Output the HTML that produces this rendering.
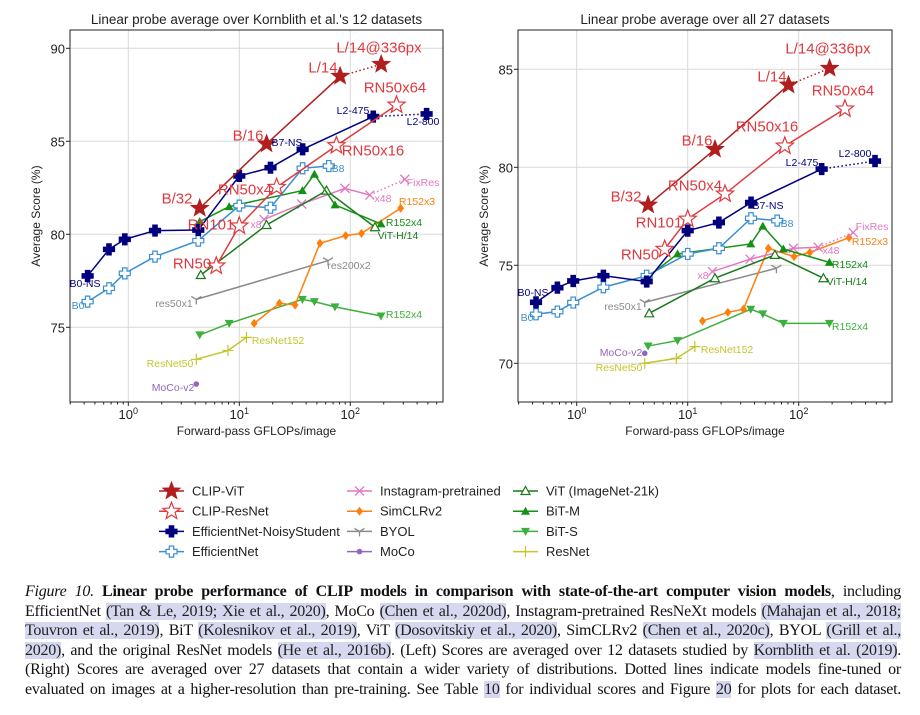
<!DOCTYPE html>
<html><head><meta charset="utf-8">
<style>
body{margin:0;background:#fff;width:920px;height:715px;overflow:hidden;font-family:"Liberation Sans",sans-serif}
#cap{position:absolute;left:25px;top:582px;width:876px;font-family:"Liberation Serif",serif;font-size:16px;line-height:19.6px;color:#111;letter-spacing:-0.25px}
#cap div{white-space:nowrap;text-align:justify;text-align-last:justify;overflow:visible}
#cap div.last{text-align-last:justify}
#cap .hl{background:#d6d8f0;color:#222}
</style></head><body>
<svg id="svg" width="920" height="575" style="position:absolute;left:0;top:0" font-family="Liberation Sans, sans-serif"></svg>
<div id="cap">
<div><i>Figure 10.</i> <b>Linear probe performance of CLIP models in comparison with state-of-the-art computer vision models</b>, including</div>
<div>EfficientNet <span class="hl">(Tan &amp; Le, 2019; Xie et al., 2020)</span>, MoCo <span class="hl">(Chen et al., 2020d)</span>, Instagram-pretrained ResNeXt models <span class="hl">(Mahajan et al., 2018;</span></div>
<div><span class="hl">Touvron et al., 2019)</span>, BiT <span class="hl">(Kolesnikov et al., 2019)</span>, ViT <span class="hl">(Dosovitskiy et al., 2020)</span>, SimCLRv2 <span class="hl">(Chen et al., 2020c)</span>, BYOL <span class="hl">(Grill et al.,</span></div>
<div><span class="hl">2020)</span>, and the original ResNet models <span class="hl">(He et al., 2016b)</span>. (Left) Scores are averaged over 12 datasets studied by <span class="hl">Kornblith et al. (2019)</span>.</div>
<div>(Right) Scores are averaged over 27 datasets that contain a wider variety of distributions. Dotted lines indicate models fine-tuned or</div>
<div class="last">evaluated on images at a higher-resolution than pre-training. See Table <span class="hl">10</span> for individual scores and Figure <span class="hl">20</span> for plots for each dataset.</div>
</div>
<script>
// ---- data ----
const clipVitX=[4.4,17.6,81,190];
const clipVitL=[81.4,84.86,88.5,89.14];
const clipVitR=[78.08,80.92,84.2,85.05];
const clipResX=[6.2,10,21.7,75,261];
const clipResL=[78.3,80.45,82.53,84.77,86.95];
const clipResR=[75.82,77.36,78.64,81.09,82.98];
const effX=[0.43,0.67,0.93,1.74,4.27,10,19.1,37.2,161,487];
const effNsL=[77.76,79.19,79.73,80.2,80.23,83.14,83.58,84.57,86.33,86.47];
const effNsR=[73.11,73.86,74.2,74.47,74.17,76.77,77.18,78.2,79.91,80.32];
const effBX=[0.43,0.67,0.93,1.74,4.27,10,19.1,37.2,64];
const effL=[76.38,77.1,77.9,78.8,79.66,81.54,81.43,83.55,83.67];
const effR=[72.5,72.64,73.1,73.88,74.47,75.58,75.87,77.4,77.28];
const igX=[16.7,36.5,89.6,150,310];
const igL=[80.8,81.63,82.47,82.11,82.96];
const igR=[74.68,75.31,75.87,75.92,76.67];
const simX=[13.6,23,31.8,53.3,90.8,126,284];
const simL=[75.21,76.29,76.2,79.52,79.93,80.05,81.4];
const simR=[72.16,72.6,72.76,75.87,75.44,75.66,76.41];
const byolX=[4.1,63];
const byolL=[76.5,78.58];
const byolR=[73.11,74.85];
const mocoX=[4.1];
const mocoL=[71.95];
const mocoR=[70.51];
const vitX=[4.5,17.6,61,167];
const vitL=[77.81,80.5,82.35,80.38];
const vitR=[72.55,74.34,75.53,74.34];
const bitX=[4.4,8.1,37,47.5,72.8,189];
const bitML=[80.68,81.49,82.35,83.23,81.58,80.56];
const bitMR=[74.42,75.58,76.09,77.0,75.83,75.15];
const bitSL=[74.59,75.21,76.5,76.38,76.1,75.61];
const bitSR=[70.88,71.16,72.76,72.52,72.04,72.04];
const resX=[4.1,7.9,11.6];
const resL=[73.28,73.75,74.46];
const resR=[70.0,70.25,70.85];
const yTicksL=[75,80,85,90];
const yTicksR=[70,75,80,85];
const xTickExp=[0,1,2];

const NS="http://www.w3.org/2000/svg";
const svg=document.getElementById('svg');
function mk(tag,attrs,parent){const e=document.createElementNS(NS,tag);for(const k in attrs)e.setAttribute(k,attrs[k]);(parent||svg).appendChild(e);return e;}

const C={vit:'#b01e1e',res:'#e0393e',ns:'#00007f',eff:'#3a8fd0',ig:'#e377c2',sim:'#ff7f0e',byol:'#8a8a8a',moco:'#9467bd',vit21:'#1a7a1a',bitm:'#159015',bits:'#3cb03c',rn:'#c5c52a'};

function starPts(cx,cy,r){let p=[];for(let i=0;i<10;i++){const a=-Math.PI/2+i*Math.PI/5;const rr=i%2?r*0.42:r;p.push((cx+rr*Math.cos(a)).toFixed(1)+','+(cy+rr*Math.sin(a)).toFixed(1));}return p.join(' ');}
function marker(g,type,cx,cy,col){
  if(type==='starF')return mk('polygon',{points:starPts(cx,cy,9),fill:col,stroke:col},g);
  if(type==='starH')return mk('polygon',{points:starPts(cx,cy,9),fill:'#fff',stroke:col,'stroke-width':1.2},g);
  if(type==='plusF'||type==='plusH'){const a=2.2,b=5.5;const pts=[[-a,-b],[a,-b],[a,-a],[b,-a],[b,a],[a,a],[a,b],[-a,b],[-a,a],[-b,a],[-b,-a],[-a,-a]].map(p=>(cx+p[0])+','+(cy+p[1])).join(' ');return mk('polygon',{points:pts,fill:type==='plusF'?col:'#fff',stroke:col,'stroke-width':1.2},g);}
  if(type==='x'){const s=4.5;return mk('path',{d:`M${cx-s},${cy-s}L${cx+s},${cy+s}M${cx-s},${cy+s}L${cx+s},${cy-s}`,stroke:col,'stroke-width':1.3},g);}
  if(type==='dia')return mk('polygon',{points:`${cx},${cy-4.5} ${cx+3.5},${cy} ${cx},${cy+4.5} ${cx-3.5},${cy}`,fill:col},g);
  if(type==='tri_down'){const s=5;return mk('path',{d:`M${cx},${cy}L${cx},${cy+s}M${cx},${cy}L${cx-s},${cy-s*0.6}M${cx},${cy}L${cx+s},${cy-s*0.6}`,stroke:col,'stroke-width':1.3},g);}
  if(type==='dot')return mk('circle',{cx,cy,r:2.8,fill:col},g);
  if(type==='triH')return mk('polygon',{points:`${cx},${cy-4.5} ${cx+4.5},${cy+3.5} ${cx-4.5},${cy+3.5}`,fill:'#fff',stroke:col,'stroke-width':1.2},g);
  if(type==='triU')return mk('polygon',{points:`${cx},${cy-4.5} ${cx+4.5},${cy+3.5} ${cx-4.5},${cy+3.5}`,fill:col},g);
  if(type==='triD')return mk('polygon',{points:`${cx},${cy+4.5} ${cx+4.5},${cy-3.5} ${cx-4.5},${cy-3.5}`,fill:col},g);
  if(type==='plus'){const s=5.5;return mk('path',{d:`M${cx-s},${cy}L${cx+s},${cy}M${cx},${cy-s}L${cx},${cy+s}`,stroke:col,'stroke-width':1.2},g);}
}

function chart(o){
  const g=mk('g',{});
  
  
  const X=v=>o.x0+o.dec*Math.log10(v);
  const Y=v=>o.yTop+(o.yTopVal-v)*o.ppu;
  o.yTicks.forEach(t=>{const y=Y(t);mk('line',{x1:o.L,x2:o.R,y1:y,y2:y,stroke:'#d8d8d8','stroke-width':1},g);
    const tl=mk('text',{x:o.L-5,y:y+5,'text-anchor':'end','font-size':13,fill:'#222'},g);tl.textContent=t;
    
    mk('line',{x1:o.L-4,x2:o.L,y1:y,y2:y,stroke:'#222'},g);});
  xTickExp.forEach(e=>{const x=X(Math.pow(10,e));mk('line',{x1:x,x2:x,y1:o.T,y2:o.B,stroke:'#d8d8d8'},g);
    mk('line',{x1:x,x2:x,y1:o.B,y2:o.B+4,stroke:'#222'},g);
    const tl=mk('text',{x:x,y:o.B+17,'text-anchor':'middle','font-size':13,fill:'#222'},g);
    
    tl.textContent='10';const s=mk('tspan',{dy:-5,'font-size':9},tl);s.textContent=e;});
  for(let e=-1;e<=2;e++)for(let m=2;m<=9;m++){const x=X(m*Math.pow(10,e));if(x>o.L&&x<o.R)mk('line',{x1:x,x2:x,y1:o.B,y2:o.B+2.5,stroke:'#222'},g);}
  mk('rect',{x:o.L,y:o.T,width:o.R-o.L,height:o.B-o.T,fill:'none',stroke:'#222','stroke-width':1},g);
  const tt=mk('text',{x:(o.L+o.R)/2,y:24,'text-anchor':'middle','font-size':13.5,fill:'#222'},g);tt.textContent=o.title;
  
  const xl=mk('text',{x:(o.L+o.R)/2,y:o.B+33,'text-anchor':'middle','font-size':12,fill:'#222'},g);xl.textContent='Forward-pass GFLOPs/image';
  
  const yl=mk('text',{x:0,y:0,'text-anchor':'middle','font-size':12,fill:'#222',transform:`translate(${o.L-30},${(o.T+o.B)/2}) rotate(-90)`},g);yl.textContent='Average Score (%)';
  
  o.series.forEach(s=>{
    const sg=mk('g',{},g);
    
    
    const n=s.xs.length;const solidN=s.dot?n-1:n;
    if(solidN>1){mk('polyline',{points:s.xs.slice(0,solidN).map((v,i)=>X(v)+','+Y(s.ys[i])).join(' '),fill:'none',stroke:s.col,'stroke-width':1.5},sg);}
    if(s.dot){mk('line',{x1:X(s.xs[n-2]),y1:Y(s.ys[n-2]),x2:X(s.xs[n-1]),y2:Y(s.ys[n-1]),stroke:s.col,'stroke-width':1.5,'stroke-dasharray':'1.5,2.5'},sg);}
    s.xs.forEach((v,i)=>marker(sg,s.m,X(v),Y(s.ys[i]),s.col));
  });
  o.labels.forEach(l=>{const t=mk('text',{x:l[1],y:l[2],'text-anchor':l[5]||'middle','dominant-baseline':'central','font-size':l[4],fill:l[3]},g);t.textContent=l[0];
    });
}
function series(yv){return [
 {name:'bit-s-series',xs:bitX,ys:yv.bitS,col:C.bits,m:'triD'},
 {name:'resnet-series',xs:resX,ys:yv.res,col:C.rn,m:'plus'},
 {name:'moco-series',xs:mocoX,ys:yv.moco,col:C.moco,m:'dot'},
 {name:'byol-series',xs:byolX,ys:yv.byol,col:C.byol,m:'tri_down'},
 {name:'simclr-series',xs:simX,ys:yv.sim,col:C.sim,m:'dia'},
 {name:'instagram-series',xs:igX,ys:yv.ig,col:C.ig,m:'x',dot:true},
 {name:'vit-21k-series',xs:vitX,ys:yv.vit,col:C.vit21,m:'triH'},
 {name:'bit-m-series',xs:bitX,ys:yv.bitM,col:C.bitm,m:'triU'},
 {name:'efficientnet-series',xs:effBX,ys:yv.eff,col:C.eff,m:'plusH'},
 {name:'efficientnet-ns-series',xs:effX,ys:yv.ns,col:C.ns,m:'plusF',dot:true},
 {name:'clip-resnet-series',xs:clipResX,ys:yv.clipRes,col:C.res,m:'starH'},
 {name:'clip-vit-series',xs:clipVitX,ys:yv.clipVit,col:C.vit,m:'starF',dot:true},
];}
const B=15,S=10.5;
chart({name:'left-chart',title:"Linear probe average over Kornblith et al.'s 12 datasets",L:70,R:443,T:30,B:402,x0:128.3,dec:111,yTop:48.3,yTopVal:90,ppu:18.6,yTicks:yTicksL,
 series:series({clipVit:clipVitL,clipRes:clipResL,ns:effNsL,eff:effL,ig:igL,sim:simL,byol:byolL,moco:mocoL,vit:vitL,bitM:bitML,bitS:bitSL,res:resL}),
 labels:[['L/14@336px',379,48,C.res,B],['L/14',323,68,C.res,B],['RN50x64',395,88,C.res,B],['L2-475',353,111,C.ns,S],['L2-800',423,122,C.ns,S],['B/16',248,136,C.res,B],['B7-NS',287,143,C.ns,S],['RN50x16',373,151,C.res,B],['B8',338,169,C.eff,S],['FixRes',423,183,C.ig,S],['RN50x4',245,190,C.res,B],['x48',383,199,C.ig,S],['R152x3',417,202,C.sim,S],['B/32',177,199,C.res,B],['RN101',211,225,C.res,B],['x8',256,225,C.ig,S],['R152x4',404,223,C.bitm,S],['ViT-H/14',398,236,C.vit21,S],['RN50',192,264,C.res,B],['res200x2',349,266,C.byol,S],['B0-NS',85,284,C.ns,S],['res50x1',174,304,C.byol,S],['B0',78,306,C.eff,S],['R152x4',404,315,C.bits,S],['ResNet152',278,341,C.rn,S],['ResNet50',170,364,C.rn,S],['MoCo-v2',173,388,C.moco,S]]});
chart({name:'right-chart',title:'Linear probe average over all 27 datasets',L:518,R:892,T:30,B:402,x0:576.7,dec:111,yTop:69.3,yTopVal:85,ppu:19.6,yTicks:yTicksR,
 series:series({clipVit:clipVitR,clipRes:clipResR,ns:effNsR,eff:effR,ig:igR,sim:simR,byol:byolR,moco:mocoR,vit:vitR,bitM:bitMR,bitS:bitSR,res:resR}),
 labels:[['L/14@336px',828,49,C.res,B],['L/14',772,77,C.res,B],['RN50x64',843,91,C.res,B],['RN50x16',767,127,C.res,B],['B/16',697,141,C.res,B],['L2-800',855,154,C.ns,S],['L2-475',802,163,C.ns,S],['RN50x4',695,186,C.res,B],['B/32',626,197,C.res,B],['B7-NS',768,206,C.ns,S],['RN101',659,223,C.res,B],['B8',787,224,C.eff,S],['FixRes',872,227,C.ig,S],['R152x3',870,242,C.sim,S],['RN50',640,255,C.res,B],['x48',831,251,C.ig,S],['R152x4',850,265,C.bitm,S],['x8',703,276,C.ig,S],['ViT-H/14',847,282,C.vit21,S],['B0-NS',533,293,C.ns,S],['res50x1',623,307,C.byol,S],['B0',527,318,C.eff,S],['R152x4',850,327,C.bits,S],['MoCo-v2',621,353,C.moco,S],['ResNet152',727,350,C.rn,S],['ResNet50',619,368,C.rn,S]]});
// legend
const legend=[['CLIP-ViT',C.vit,'starF',0,0],['CLIP-ResNet',C.res,'starH',0,1],['EfficientNet-NoisyStudent',C.ns,'plusF',0,2],['EfficientNet',C.eff,'plusH',0,3],
['Instagram-pretrained',C.ig,'x',1,0],['SimCLRv2',C.sim,'dia',1,1],['BYOL',C.byol,'tri_down',1,2],['MoCo',C.moco,'dot',1,3],
['ViT (ImageNet-21k)',C.vit21,'triH',2,0],['BiT-M',C.bitm,'triU',2,1],['BiT-S',C.bits,'triD',2,2],['ResNet',C.rn,'plus',2,3]];
const colX=[159,347,513];
legend.forEach(l=>{const g=mk('g',{});
 
 
 const x=colX[l[3]],y=491+l[4]*20.2;
 mk('line',{x1:x,x2:x+25,y1:y,y2:y,stroke:l[1],'stroke-width':1.5},g);
 marker(g,l[2],x+12.5,y,l[1]);
 const t=mk('text',{x:x+33,y:y+4.5,'font-size':13,fill:'#222'},g);t.textContent=l[0];});
</script>
</body></html>
